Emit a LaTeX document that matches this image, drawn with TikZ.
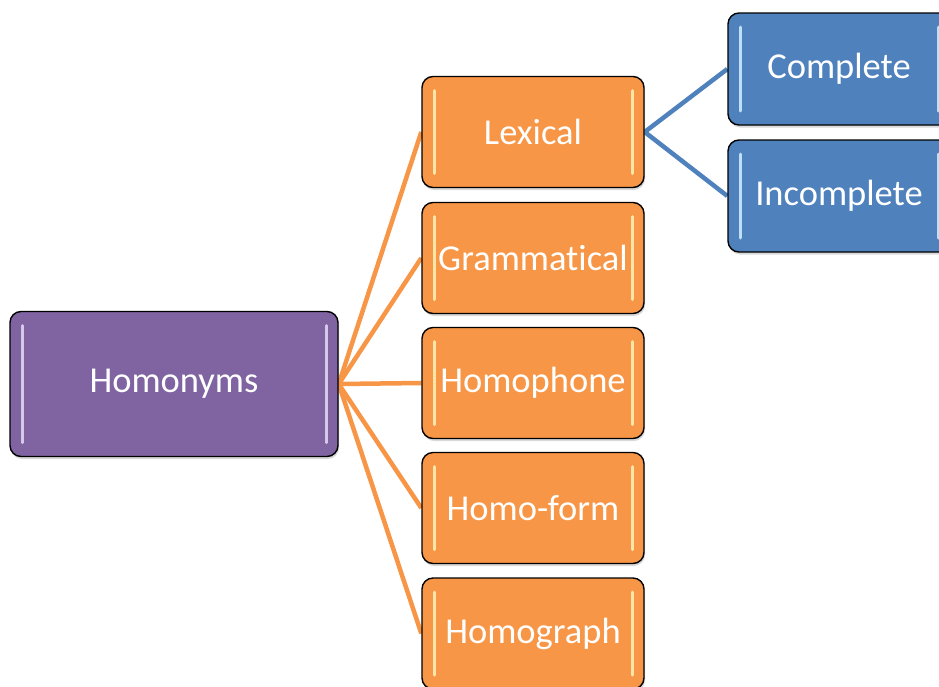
\documentclass[tikz,border=0pt]{standalone}
\usepackage{fontspec}
\setmainfont[Ligatures={NoCommon}]{Carlito}
\usetikzlibrary{shadows,backgrounds}
\definecolor{purp}{HTML}{8064A2}
\definecolor{purphl}{HTML}{E6DAF8}
\definecolor{oran}{HTML}{F79646}
\definecolor{oranhl}{HTML}{FFF3B8}
\definecolor{blu}{HTML}{4F81BD}
\definecolor{bluhl}{HTML}{D2F0FF}
\tikzset{
  box/.style n args={2}{draw=black, line width=1.4pt, rounded corners=11pt, fill=#1,
    text=white, font=\fontsize{36.5}{40}\selectfont, inner sep=0pt,
    drop shadow={opacity=0.3, shadow xshift=1pt, shadow yshift=-2.5pt},
    path picture={
      \draw[#2, line width=3pt, line cap=round, opacity=0.85]
        ([xshift=12pt,yshift=-14pt]path picture bounding box.north west) --
        ([xshift=12pt,yshift=14pt]path picture bounding box.south west);
      \draw[#2, line width=3pt, line cap=round, opacity=0.85]
        ([xshift=-12pt,yshift=-14pt]path picture bounding box.north east) --
        ([xshift=-12pt,yshift=14pt]path picture bounding box.south east);
    }},
  rootbox/.style={box={purp}{purphl}, minimum width=328pt, minimum height=145pt},
  midbox/.style={box={oran}{oranhl}, minimum width=222pt, minimum height=111pt},
  leafbox/.style={box={blu}{bluhl}, minimum width=222pt, minimum height=112pt},
  olink/.style={draw=oran, line width=4.5pt},
  blink/.style={draw=blu, line width=4.5pt},
}
\begin{document}
\begin{tikzpicture}[x=1pt,y=1pt]
\useasboundingbox (0,0) rectangle (939,-686);
\node[rootbox] (hom) at (174,-384) {Homonyms};
\node[midbox] (lex) at (533,-132) {Lexical};
\node[midbox] (gra) at (533,-258) {Grammatical};
\node[midbox] (pho) at (533,-383) {Homophone};
\node[midbox] (frm) at (533,-508) {Homo-form};
\node[midbox] (gph) at (533,-633.5) {Homograph};
\node[leafbox] (com) at (839,-69) {Complete};
\node[leafbox] (inc) at (839,-196) {Incomplete};
\begin{scope}[on background layer]
\path[olink] (hom.east) -- (lex.west);
\path[olink] (hom.east) -- (gra.west);
\path[olink] (hom.east) -- (pho.west);
\path[olink] (hom.east) -- (frm.west);
\path[olink] (hom.east) -- (gph.west);
\path[blink] (lex.east) -- (com.west);
\path[blink] (lex.east) -- (inc.west);
\end{scope}
\end{tikzpicture}
\end{document}
